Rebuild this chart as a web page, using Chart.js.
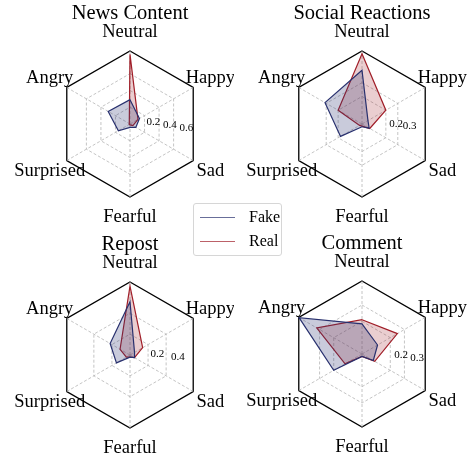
<!DOCTYPE html>
<html>
<head>
<meta charset="utf-8">
<script src="https://cdn.jsdelivr.net/npm/chart.js@4.4.0/dist/chart.umd.min.js"></script>
<style>
  body { margin: 0; background: #fff; }
  #wrap { position: relative; width: 469px; height: 457px; overflow: hidden; }
  canvas { position: absolute; }
  #legend {
    position: absolute; left: 193px; top: 203px; width: 87px; height: 51px;
    border: 1px solid #d6d6d6; border-radius: 3px; background: rgba(255,255,255,0.8);
    font-family: "Liberation Serif", "Times New Roman", serif; font-size: 16px; color: #000;
  }
  #legend .row { position: absolute; left: 0; height: 20px; line-height: 20px; }
  #legend .swatch { position: absolute; left: 6px; top: 10px; width: 35px; height: 0; border-top: 1.5px solid; }
  #legend .lbl { position: absolute; left: 55px; top: 0; }
</style>
</head>
<body>
<div id="wrap">
  <canvas id="c0" width="234" height="228" style="left:0;top:0"></canvas>
  <canvas id="c1" width="234" height="228" style="left:235px;top:0"></canvas>
  <canvas id="c2" width="234" height="228" style="left:0;top:228px"></canvas>
  <canvas id="c3" width="234" height="228" style="left:235px;top:228px"></canvas>
  <div id="legend">
    <div class="row" style="top:3px"><div class="swatch" style="border-color:rgba(40,48,110,0.7)"></div><span class="lbl">Fake</span></div>
    <div class="row" style="top:27px"><div class="swatch" style="border-color:rgba(160,30,40,0.7)"></div><span class="lbl">Real</span></div>
  </div>
</div>
<script>
// emotion categories, clockwise from the top
const categories = ['Neutral', 'Happy', 'Sad', 'Fearful', 'Surprised', 'Angry'];
const panelTitles = ['News Content', 'Social Reactions', 'Repost', 'Comment'];

const fakeNews = [0.29, 0.13, 0.08, 0.04, 0.16, 0.30];
const realNews = [0.83, 0.11, 0.04, 0.01, 0.01, 0.01];
const fakeSocial = [0.39, 0.05, 0.06, 0.02, 0.18, 0.31];
const realSocial = [0.51, 0.20, 0.065, 0.015, 0.02, 0.20];
const fakeRepost = [0.51, 0.05, 0.05, 0.02, 0.15, 0.22];
const realRepost = [0.66, 0.14, 0.05, 0.02, 0.04, 0.11];
const fakeComment = [0.185, 0.11, 0.08, 0.015, 0.20, 0.445];
const realComment = [0.21, 0.25, 0.09, 0.015, 0.12, 0.32];

const ticksNews = [0.2, 0.4, 0.6];
const ticksSocial = [0.2, 0.3];
const ticksRepost = [0.2, 0.4];
const ticksComment = [0.2, 0.3];

const maxNews = 0.87, maxSocial = 0.53, maxRepost = 0.70, maxComment = 0.447;

const panels = [
  { id: 'c0', fake: fakeNews, real: realNews, ticks: ticksNews, max: maxNews, pad: { left: 57, right: 31, top: 51, bottom: 31 } },
  { id: 'c1', fake: fakeSocial, real: realSocial, ticks: ticksSocial, max: maxSocial, pad: { left: 54, right: 34, top: 51, bottom: 31 } },
  { id: 'c2', fake: fakeRepost, real: realRepost, ticks: ticksRepost, max: maxRepost, pad: { left: 57, right: 31, top: 54, bottom: 28 } },
  { id: 'c3', fake: fakeComment, real: realComment, ticks: ticksComment, max: maxComment, pad: { left: 54, right: 34, top: 53, bottom: 29 } }
];

const SERIF = '"Liberation Serif", "Times New Roman", serif';
const FAKE = 'rgb(40,48,110)';
const REAL = 'rgb(160,30,40)';

const labelsPlugin = {
  id: 'radarText',
  afterDraw(chart, args, opts) {
    const s = chart.scales.r, ctx = chart.ctx;
    ctx.save();
    ctx.fillStyle = '#000';
    // title
    ctx.font = '20.5px ' + SERIF;
    ctx.textAlign = 'center';
    ctx.textBaseline = 'alphabetic';
    ctx.fillText(opts.title, s.xCenter, s.yCenter - 105.5);
    // category labels
    ctx.font = '18.5px ' + SERIF;
    categories.forEach((c, i) => {
      const p = s.getPointPosition(i, s.drawingArea * 1.27);
      ctx.fillText(c, p.x, p.y + 5.5);
    });
    // radial tick labels
    ctx.font = '11px ' + SERIF;
    ctx.textAlign = 'left';
    const a = 10 * Math.PI / 180;
    opts.ticks.forEach(v => {
      const r = s.getDistanceFromCenterForValue(v);
      ctx.fillText(String(v), s.xCenter + r * Math.cos(a), s.yCenter + r * Math.sin(a) - 2);
    });
    ctx.restore();
  }
};

panels.forEach((p, k) => {
  new Chart(document.getElementById(p.id), {
    type: 'radar',
    data: {
      labels: categories,
      datasets: [
        { label: 'Fake', data: p.fake, borderColor: FAKE, backgroundColor: 'rgba(40,48,110,0.25)', borderWidth: 1.2, fill: true, pointRadius: 0, tension: 0 },
        { label: 'Real', data: p.real, borderColor: REAL, backgroundColor: 'rgba(160,30,40,0.22)', borderWidth: 1.2, fill: true, pointRadius: 0, tension: 0 }
      ]
    },
    options: {
      responsive: false,
      animation: false,
      devicePixelRatio: 1,
      layout: { padding: p.pad },
      plugins: {
        legend: { display: false },
        tooltip: { enabled: false },
        radarText: { title: panelTitles[k], ticks: p.ticks }
      },
      scales: {
        r: {
          min: 0,
          max: p.max,
          afterBuildTicks: scale => {
            scale.ticks = [0, ...p.ticks, p.max].map(v => ({ value: v }));
          },
          ticks: { display: false },
          pointLabels: { display: false },
          grid: {
            circular: false,
            color: c => (c.tick && c.tick.value === p.max) ? '#000' : '#b5b5b5',
            lineWidth: c => (c.tick && c.tick.value === p.max) ? 1.3 : 0.8
          },
          border: {
            dash: c => (c.tick && c.tick.value === p.max) ? [] : [3, 2]
          },
          angleLines: { color: '#b5b5b5', lineWidth: 0.8, borderDash: [3, 2] }
        }
      }
    },
    plugins: [labelsPlugin]
  });
});
</script>
</body>
</html>
